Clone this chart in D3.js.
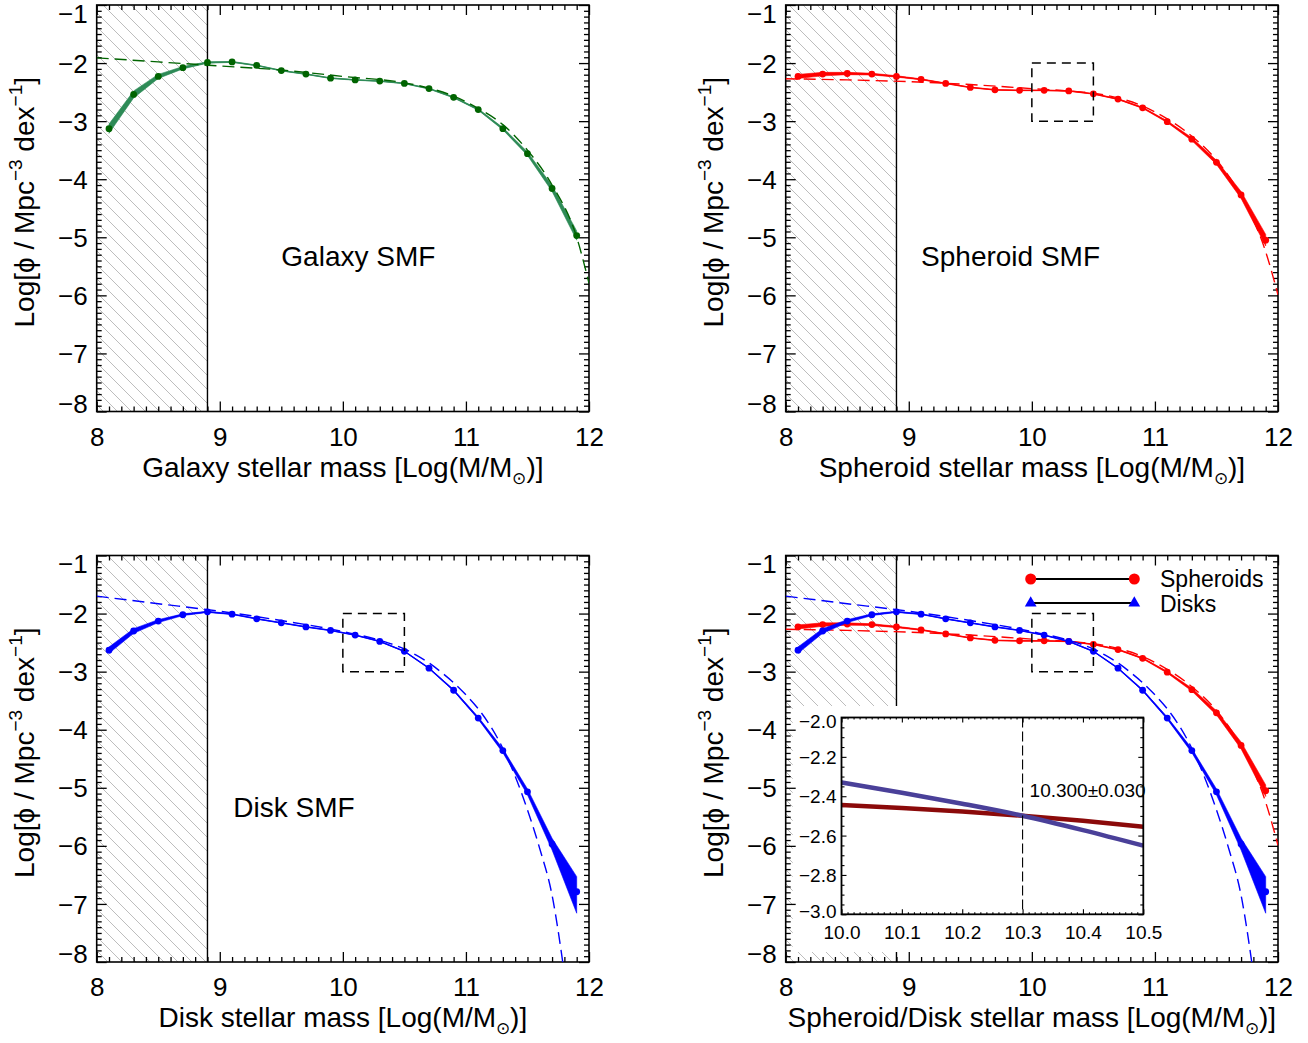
<!DOCTYPE html>
<html>
<head>
<meta charset="utf-8">
<script src="https://cdn.jsdelivr.net/npm/d3@7"></script>
<style>
  body { margin: 0; background: #fff; }
  svg { display: block; }
  text { font-family: "Liberation Sans", Arial, Helvetica, sans-serif; fill: #000; }
</style>
</head>
<body>
<svg id="chart" width="1308" height="1043"></svg>
<script>
// ---- Stellar mass function data (log10 M/Msun bins, log10 phi) ----
const massBins = [8.1, 8.3, 8.5, 8.7, 8.9, 9.1, 9.3, 9.5, 9.7, 9.9, 10.1, 10.3, 10.5, 10.7, 10.9, 11.1, 11.3, 11.5, 11.7, 11.9];

const galaxyPhi = [-3.13, -2.54, -2.23, -2.08, -1.99, -1.98, -2.04, -2.13, -2.19, -2.26, -2.29, -2.31, -2.35, -2.44, -2.59, -2.80, -3.13, -3.56, -4.16, -4.97];
const galaxyErr = [0.08, 0.06, 0.035, 0.02, 0.012, 0.008, 0.006, 0.006, 0.006, 0.006, 0.006, 0.006, 0.006, 0.007, 0.009, 0.012, 0.02, 0.03, 0.05, 0.08];

const spheroidPhi = [-2.23, -2.19, -2.18, -2.19, -2.23, -2.28, -2.35, -2.42, -2.46, -2.47, -2.47, -2.48, -2.53, -2.62, -2.77, -3.01, -3.31, -3.71, -4.27, -5.05];
const spheroidErr = [0.035, 0.03, 0.02, 0.015, 0.012, 0.008, 0.006, 0.006, 0.006, 0.006, 0.006, 0.006, 0.006, 0.008, 0.01, 0.015, 0.025, 0.035, 0.06, 0.1];

const diskPhi = [-2.63, -2.30, -2.13, -2.02, -1.97, -2.01, -2.09, -2.16, -2.23, -2.29, -2.37, -2.48, -2.65, -2.94, -3.32, -3.80, -4.36, -5.07, -5.97, -6.79];
const diskErrUp = [0.055, 0.04, 0.025, 0.015, 0.01, 0.007, 0.006, 0.006, 0.006, 0.006, 0.006, 0.006, 0.006, 0.008, 0.012, 0.02, 0.035, 0.05, 0.1, 0.26];
const diskErrDown = [0.055, 0.04, 0.025, 0.015, 0.01, 0.007, 0.006, 0.006, 0.006, 0.006, 0.006, 0.006, 0.006, 0.008, 0.012, 0.02, 0.035, 0.05, 0.1, 0.37];

// ---- Schechter fits (dashed) ----
const galaxyFitMass = [8.0, 8.5, 9.0, 9.5, 10.0, 10.5, 10.7, 10.9, 11.1, 11.3, 11.5, 11.7, 11.9, 12.0];
const galaxyFitPhi  = [-1.91, -1.98, -2.05, -2.12, -2.23, -2.34, -2.43, -2.57, -2.78, -3.06, -3.50, -4.10, -5.00, -5.79];

const spheroidFitMass = [8.0, 8.5, 9.0, 9.5, 10.0, 10.3, 10.5, 10.7, 10.9, 11.1, 11.3, 11.5, 11.7, 11.9, 12.0];
const spheroidFitPhi  = [-2.27, -2.29, -2.32, -2.37, -2.44, -2.48, -2.52, -2.60, -2.74, -2.96, -3.26, -3.67, -4.29, -5.25, -5.99];

const diskFitMass = [8.0, 8.5, 9.0, 9.5, 10.0, 10.3, 10.5, 10.6, 10.7, 10.8, 10.9, 11.0, 11.1, 11.2, 11.3, 11.4, 11.5, 11.6, 11.7, 11.8];
const diskFitPhi  = [-1.70, -1.83, -1.96, -2.12, -2.31, -2.46, -2.61, -2.72, -2.85, -3.01, -3.19, -3.40, -3.64, -3.94, -4.32, -4.80, -5.38, -6.05, -6.85, -8.20];

// ---- Crossing region (inset) ----
const insetMass = [10.0, 10.1, 10.2, 10.3, 10.4, 10.5];
const insetDiskPhi = [-2.330, -2.382, -2.438, -2.499, -2.572, -2.651];
const insetSpheroidPhi = [-2.445, -2.460, -2.478, -2.499, -2.525, -2.555];
const crossingMass = 10.3;
const crossingErr = 0.03;

// ---- Axes ----
const xTicks = [8, 9, 10, 11, 12];
const yTicks = [-1, -2, -3, -4, -5, -6, -7, -8];
const insetXTicks = [10.0, 10.1, 10.2, 10.3, 10.4, 10.5];
const insetYTicks = [-2.0, -2.2, -2.4, -2.6, -2.8, -3.0];
const completenessLimit = 8.9;
const zoomBoxMass = [10.0, 10.5];
const zoomBoxPhi = [-3.0, -2.0];

// ---- Layout ----
const svg = d3.select("#chart");
const plotW = 492.3, plotH = 406.5;
const colLeft = [96.7, 785.7];
const rowTop = [5, 555.5];
const GREEN_LINE = "#2e8b57", GREEN_DARK = "#006400";
const RED = "#ff0000", BLUE = "#0000ff";

// hatch pattern for the incompleteness region
const defs = svg.append("defs");
const HS = 14;
const pat = defs.append("pattern").attr("id", "hatch").attr("patternUnits", "userSpaceOnUse")
  .attr("width", HS).attr("height", HS);
pat.append("path").attr("d", `M-3,-3 L${HS + 3},${HS + 3} M-3,${HS - 3} L3,${HS + 3} M${HS - 3},-3 L${HS + 3},3`)
  .attr("stroke", "#bdbdbd").attr("stroke-width", 1).attr("fill", "none");

let clipCount = 0;

function addTicks(g, axisGen, transform, size) {
  const a = g.append("g").attr("transform", transform).call(axisGen.tickSize(size));
  a.select(".domain").remove();
  a.selectAll(".tick line").attr("stroke", "#000").attr("stroke-width", 1.3);
  return a;
}

function drawFrameAndTicks(g, x, y, left, top) {
  const minorX = d3.range(80, 121).map(i => i / 10).filter(v => !xTicks.includes(v));
  const minorY = d3.range(-80, -9).map(i => i / 10).filter(v => !yTicks.includes(v));
  const bottom = top + plotH, right = left + plotW;

  const bx = addTicks(g, d3.axisBottom(x).tickValues(xTicks).tickFormat(d3.format("d")), `translate(0,${bottom})`, -10);
  bx.selectAll(".tick text").attr("y", 34).attr("dy", 0).attr("font-size", 26).attr("font-family", null);
  addTicks(g, d3.axisBottom(x).tickValues(minorX).tickFormat(""), `translate(0,${bottom})`, -5);
  addTicks(g, d3.axisTop(x).tickValues(xTicks).tickFormat(""), `translate(0,${top})`, -10);
  addTicks(g, d3.axisTop(x).tickValues(minorX).tickFormat(""), `translate(0,${top})`, -5);

  const ly = addTicks(g, d3.axisLeft(y).tickValues(yTicks).tickFormat(d3.format("d")), `translate(${left},0)`, -10);
  // end labels sit just inside the frame
  ly.selectAll(".tick text").attr("x", -9).attr("font-size", 26).attr("font-family", null)
    .attr("dy", d => d === -1 ? "0.66em" : d === -8 ? "0.02em" : "0.35em");
  addTicks(g, d3.axisLeft(y).tickValues(minorY).tickFormat(""), `translate(${left},0)`, -5);
  addTicks(g, d3.axisRight(y).tickValues(yTicks).tickFormat(""), `translate(${right},0)`, -10);
  addTicks(g, d3.axisRight(y).tickValues(minorY).tickFormat(""), `translate(${right},0)`, -5);

  g.append("rect").attr("x", left).attr("y", top).attr("width", plotW).attr("height", plotH)
    .attr("fill", "none").attr("stroke", "#000").attr("stroke-width", 1.6);
}

function drawSeries(g, x, y, phi, errUp, errDown, lineColor, dotColor, fitMass, fitPhi, fitColor) {
  const pts = massBins.map((m, i) => ({ m, v: phi[i], up: errUp[i], dn: errDown[i] }));
  const band = d3.area().x(d => x(d.m)).y0(d => y(d.v - d.dn)).y1(d => y(d.v + d.up));
  const line = d3.line().x(d => x(d.m)).y(d => y(d.v));
  g.append("path").attr("d", band(pts)).attr("fill", lineColor).attr("stroke", lineColor).attr("stroke-width", 0.6);
  g.append("path").attr("d", line(pts)).attr("fill", "none").attr("stroke", lineColor).attr("stroke-width", 1.3);
  g.selectAll(null).data(pts).join("circle")
    .attr("cx", d => x(d.m)).attr("cy", d => y(d.v)).attr("r", 3.4).attr("fill", dotColor);

  const fit = fitMass.map((m, i) => ({ m, v: fitPhi[i] }));
  const fitLine = d3.line().curve(d3.curveMonotoneX).x(d => x(d.m)).y(d => y(d.v));
  g.append("path").attr("d", fitLine(fit)).attr("fill", "none").attr("stroke", fitColor)
    .attr("stroke-width", 1.4).attr("stroke-dasharray", "12,6");
}

function drawZoomBox(g, x, y) {
  g.append("rect")
    .attr("x", x(zoomBoxMass[0])).attr("y", y(zoomBoxPhi[1]))
    .attr("width", x(zoomBoxMass[1]) - x(zoomBoxMass[0]))
    .attr("height", y(zoomBoxPhi[0]) - y(zoomBoxPhi[1]))
    .attr("fill", "none").attr("stroke", "#000").attr("stroke-width", 1.5).attr("stroke-dasharray", "9,6");
}

function yTitle(g, left, top) {
  const t = g.append("text")
    .attr("transform", `translate(${left - 63},${top + plotH / 2 - 6}) rotate(-90)`)
    .attr("text-anchor", "middle").attr("font-size", 28);
  t.append("tspan").text("Log[ϕ / Mpc");
  t.append("tspan").attr("font-size", 19).attr("dy", -12).text("−3");
  t.append("tspan").attr("dy", 12).text(" dex");
  t.append("tspan").attr("font-size", 19).attr("dy", -12).text("−1");
  t.append("tspan").attr("dy", 12).text("]");
}

function xTitle(g, left, top, label) {
  const t = g.append("text")
    .attr("x", left + plotW / 2).attr("y", top + plotH + 65)
    .attr("text-anchor", "middle").attr("font-size", 28);
  t.append("tspan").text(label + " [Log(M/M");
  t.append("tspan").attr("font-size", 17).attr("dy", 7).text("⊙");
  t.append("tspan").attr("dy", -7).text(")]");
}

function makePanel(col, row, opts) {
  const left = colLeft[col], top = rowTop[row];
  const x = d3.scaleLinear().domain([8, 12]).range([left, left + plotW]);
  const y = d3.scaleLinear().domain([-8, -1]).range([top + plotH, top]);
  const g = svg.append("g");

  const clipId = "clip" + (clipCount++);
  defs.append("clipPath").attr("id", clipId).append("rect")
    .attr("x", left).attr("y", top).attr("width", plotW).attr("height", plotH);

  // incompleteness region
  g.append("rect").attr("x", x(8)).attr("y", top)
    .attr("width", x(completenessLimit) - x(8)).attr("height", plotH).attr("fill", "url(#hatch)");
  g.append("line").attr("x1", x(completenessLimit)).attr("x2", x(completenessLimit))
    .attr("y1", top).attr("y2", top + plotH).attr("stroke", "#000").attr("stroke-width", 1.4);

  if (opts.inset) {
    // backdrop for the inset panel
    g.append("rect").attr("x", left + 7).attr("y", 706).attr("width", 1150 - left - 7).attr("height", 246)
      .attr("fill", "#fff");
  }

  drawFrameAndTicks(g, x, y, left, top);

  const data = g.append("g").attr("clip-path", `url(#${clipId})`);
  opts.series.forEach(s => drawSeries(data, x, y, ...s));

  if (opts.box) drawZoomBox(g, x, y);

  if (opts.label) {
    g.append("text").attr("x", x(opts.label[1])).attr("y", y(opts.label[2]))
      .attr("font-size", 28).text(opts.label[0]);
  }

  yTitle(g, left, top);
  xTitle(g, left, top, opts.xTitle);

  if (opts.legend) drawLegend(g);
  if (opts.inset) drawInset(g);
}

function drawLegend(g) {
  const lx0 = 1030.7, lx1 = 1134.3;
  const rows = [
    { y: 579, color: RED, shape: d3.symbolCircle, size: 95, label: "Spheroids", ty: 587 },
    { y: 603, color: BLUE, shape: d3.symbolTriangle, size: 60, label: "Disks", ty: 611.5 }
  ];
  rows.forEach(r => {
    g.append("line").attr("x1", lx0).attr("x2", lx1).attr("y1", r.y).attr("y2", r.y)
      .attr("stroke", "#000").attr("stroke-width", 1.8);
    [lx0, lx1].forEach(px => {
      g.append("path").attr("d", d3.symbol(r.shape, r.size)())
        .attr("transform", `translate(${px},${r.y})`).attr("fill", r.color);
    });
    g.append("text").attr("x", 1160).attr("y", r.ty).attr("font-size", 23).text(r.label);
  });
}

function drawInset(g) {
  const L = 841.5, R = 1143.3, T = 717.5, B = 914.3;
  const x = d3.scaleLinear().domain([10.0, 10.5]).range([L, R]);
  const y = d3.scaleLinear().domain([-3.0, -2.0]).range([B, T]);
  const ig = g.append("g");
  ig.append("rect").attr("x", L).attr("y", T).attr("width", R - L).attr("height", B - T).attr("fill", "#fff");

  const minorX = d3.range(1000, 1051).map(i => i / 100).filter(v => Math.abs(v * 10 - Math.round(v * 10)) > 1e-6);
  const minorY = d3.range(-300, -199, 5).map(i => i / 100).filter(v => Math.abs(v * 5 - Math.round(v * 5)) > 1e-6);

  const tk = (gen, tr, size) => {
    const a = ig.append("g").attr("transform", tr).call(gen.tickSize(size));
    a.select(".domain").remove();
    a.selectAll(".tick line").attr("stroke", "#000").attr("stroke-width", 1.1);
    return a;
  };
  const bx = tk(d3.axisBottom(x).tickValues(insetXTicks).tickFormat(d3.format(".1f")), `translate(0,${B})`, -5);
  bx.selectAll(".tick text").attr("y", 25).attr("dy", 0).attr("font-size", 19).attr("font-family", null);
  tk(d3.axisBottom(x).tickValues(minorX).tickFormat(""), `translate(0,${B})`, -2);
  tk(d3.axisTop(x).tickValues(insetXTicks).tickFormat(""), `translate(0,${T})`, -5);
  tk(d3.axisTop(x).tickValues(minorX).tickFormat(""), `translate(0,${T})`, -2);
  const ly = tk(d3.axisLeft(y).tickValues(insetYTicks).tickFormat(d3.format(".1f")), `translate(${L},0)`, -5);
  ly.selectAll(".tick text").attr("x", -5).attr("font-size", 19).attr("font-family", null)
    .attr("dy", d => d === -2.0 ? "0.52em" : d === -3.0 ? "0.15em" : "0.35em");
  tk(d3.axisLeft(y).tickValues(minorY).tickFormat(""), `translate(${L},0)`, -3);
  tk(d3.axisRight(y).tickValues(insetYTicks).tickFormat(""), `translate(${R},0)`, -5);
  tk(d3.axisRight(y).tickValues(minorY).tickFormat(""), `translate(${R},0)`, -3);

  const line = d3.line().curve(d3.curveMonotoneX).x(d => x(d[0])).y(d => y(d[1]));
  ig.append("path").attr("d", line(insetMass.map((m, i) => [m, insetSpheroidPhi[i]])))
    .attr("fill", "none").attr("stroke", "#8b0a0a").attr("stroke-width", 4.5);
  ig.append("path").attr("d", line(insetMass.map((m, i) => [m, insetDiskPhi[i]])))
    .attr("fill", "none").attr("stroke", "#4a4099").attr("stroke-width", 4.5);

  ig.append("line").attr("x1", x(crossingMass)).attr("x2", x(crossingMass)).attr("y1", T).attr("y2", B)
    .attr("stroke", "#000").attr("stroke-width", 1.1).attr("stroke-dasharray", "10,4");
  ig.append("text").attr("x", x(crossingMass) + 7).attr("y", 797).attr("font-size", 19)
    .text(`${d3.format(".3f")(crossingMass)}±${d3.format(".3f")(crossingErr)}`);

  ig.append("rect").attr("x", L).attr("y", T).attr("width", R - L).attr("height", B - T)
    .attr("fill", "none").attr("stroke", "#000").attr("stroke-width", 1.8);
}

const galaxySeries = [galaxyPhi, galaxyErr, galaxyErr, GREEN_LINE, GREEN_DARK, galaxyFitMass, galaxyFitPhi, GREEN_DARK];
const spheroidSeries = [spheroidPhi, spheroidErr, spheroidErr, RED, RED, spheroidFitMass, spheroidFitPhi, RED];
const diskSeries = [diskPhi, diskErrUp, diskErrDown, BLUE, BLUE, diskFitMass, diskFitPhi, BLUE];

makePanel(0, 0, { series: [galaxySeries], label: ["Galaxy SMF", 9.5, -5.5], xTitle: "Galaxy stellar mass" });
makePanel(1, 0, { series: [spheroidSeries], box: true, label: ["Spheroid SMF", 9.1, -5.5], xTitle: "Spheroid stellar mass" });
makePanel(0, 1, { series: [diskSeries], box: true, label: ["Disk SMF", 9.11, -5.5], xTitle: "Disk stellar mass" });
makePanel(1, 1, { series: [spheroidSeries, diskSeries], box: true, legend: true, inset: true, xTitle: "Spheroid/Disk stellar mass" });
</script>
</body>
</html>
